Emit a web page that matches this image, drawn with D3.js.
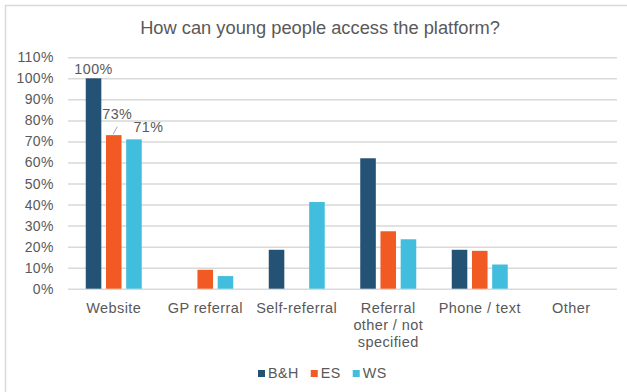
<!DOCTYPE html>
<html>
<head>
<meta charset="utf-8">
<script src="https://cdn.jsdelivr.net/npm/d3@7"></script>
<style>
  html, body { margin: 0; padding: 0; background: #fff; }
  svg { display: block; font-family: "Liberation Sans", Arial, sans-serif; }
</style>
</head>
<body>
<svg id="chart" width="627" height="392"></svg>
<script>
// Access routes and the share of each service offering them
const categories = ["Website", "GP referral", "Self-referral", "Referral other / not specified", "Phone / text", "Other"];
const seriesNames = ["B&H", "ES", "WS"];
const seriesColors = ["#245274", "#F15A22", "#41BEDD"];
const valuesBH = [1.00, 0, 0.185, 0.62, 0.185, 0];
const valuesES = [0.73, 0.09, 0, 0.273, 0.18, 0];
const valuesWS = [0.71, 0.06, 0.412, 0.235, 0.115, 0];
const yTicks = [0, 0.1, 0.2, 0.3, 0.4, 0.5, 0.6, 0.7, 0.8, 0.9, 1.0, 1.1];
// Data labels shown on the Website bars
const labelledBars = [
  { series: "B&H", cat: "Website", value: 1.00, dx: 0, dy: -4, leader: false },
  { series: "ES", cat: "Website", value: 0.73, dx: 3.5, dy: -16, leader: true },
  { series: "WS", cat: "Website", value: 0.71, dx: 14.5, dy: -7, leader: false }
];

const allValues = [valuesBH, valuesES, valuesWS];
const svg = d3.select("#chart");
const textColor = "#595959";
const smallFont = { size: 14, spacing: 0.45 };

// Outer frame of the chart area
svg.append("path")
  .attr("d", "M5.5,400 L5.5,5.5 L640,5.5")
  .attr("fill", "none")
  .attr("stroke", "#d9d9d9")
  .attr("stroke-width", 1.5);

// Title
svg.append("text")
  .attr("x", 320)
  .attr("y", 34)
  .attr("text-anchor", "middle")
  .attr("fill", textColor)
  .attr("font-size", 18.3)
  .text("How can young people access the platform?");

const plot = { left: 68, right: 617, top: 57.3, bottom: 288.7 };

const y = d3.scaleLinear().domain([0, 1.1]).range([plot.bottom, plot.top]);
const x0 = d3.scaleBand().domain(categories).range([plot.left, plot.right]);
const groupPad = (x0.bandwidth() - 56) / 2;
const x1 = d3.scaleBand().domain(seriesNames)
  .range([groupPad, x0.bandwidth() - groupPad])
  .paddingInner(0.23);

// Horizontal gridlines and percentage axis
const yAxis = d3.axisLeft(y)
  .tickValues(yTicks)
  .tickFormat(d3.format(".0%"))
  .tickSize(-(plot.right - plot.left))
  .tickPadding(14);

const yG = svg.append("g")
  .attr("transform", `translate(${plot.left},0)`)
  .call(yAxis);
yG.select(".domain").remove();
yG.selectAll(".tick line").attr("stroke", "#d9d9d9").attr("stroke-width", 1.5);
yG.selectAll(".tick text")
  .attr("fill", textColor)
  .attr("font-size", smallFont.size)
  .attr("letter-spacing", smallFont.spacing)
  .attr("font-family", "Liberation Sans, Arial, sans-serif");

// Bars
const rows = [];
categories.forEach((c, i) => {
  seriesNames.forEach((s, j) => {
    rows.push({ cat: c, series: s, value: allValues[j][i], color: seriesColors[j] });
  });
});

svg.append("g")
  .selectAll("rect")
  .data(rows.filter(d => d.value > 0))
  .join("rect")
  .attr("x", d => x0(d.cat) + x1(d.series))
  .attr("y", d => y(d.value))
  .attr("width", x1.bandwidth())
  .attr("height", d => y(0) - y(d.value))
  .attr("fill", d => d.color);

// Data labels (with a short leader line where the label was moved)
const lblG = svg.append("g");
labelledBars.forEach(d => {
  const cx = x0(d.cat) + x1(d.series) + x1.bandwidth() / 2;
  const top = y(d.value);
  lblG.append("text")
    .attr("x", cx + d.dx)
    .attr("y", top + d.dy)
    .attr("text-anchor", "middle")
    .attr("fill", textColor)
    .attr("font-size", 14.3)
    .attr("letter-spacing", smallFont.spacing)
    .text(d3.format(".0%")(d.value));
  if (d.leader) {
    lblG.append("line")
      .attr("x1", cx - 0.5).attr("y1", top - 1)
      .attr("x2", cx + 3.5).attr("y2", top - 8.5)
      .attr("stroke", "#a6a6a6")
      .attr("stroke-width", 1);
  }
});

// Category labels, wrapped to fit under each group
const catFont = { size: 14.5, spacing: 0.4 };
const catG = svg.append("g");
function wrapLines(text, maxWidth) {
  const probe = svg.append("text")
    .attr("font-size", catFont.size)
    .attr("letter-spacing", catFont.spacing)
    .attr("visibility", "hidden");
  const words = text.split(" ");
  const lines = [];
  let line = [];
  words.forEach(w => {
    const test = line.concat([w]).join(" ");
    probe.text(test);
    if (probe.node().getComputedTextLength() > maxWidth && line.length) {
      lines.push(line.join(" "));
      line = [w];
    } else {
      line.push(w);
    }
  });
  if (line.length) lines.push(line.join(" "));
  probe.remove();
  return lines;
}
categories.forEach(c => {
  const lines = wrapLines(c, 86);
  const t = catG.append("text")
    .attr("text-anchor", "middle")
    .attr("fill", textColor)
    .attr("font-size", catFont.size)
    .attr("letter-spacing", catFont.spacing);
  lines.forEach((ln, i) => {
    t.append("tspan")
      .attr("x", x0(c) + x0.bandwidth() / 2)
      .attr("y", 312.5 + i * 17.3)
      .text(ln);
  });
});

// Legend
const legendG = svg.append("g").attr("transform", "translate(258,370)");
let lx = 0;
seriesNames.forEach((s, i) => {
  const item = legendG.append("g").attr("transform", `translate(${lx},0)`);
  item.append("rect").attr("width", 7).attr("height", 7).attr("fill", seriesColors[i]);
  const t = item.append("text")
    .attr("x", 10)
    .attr("y", 8)
    .attr("fill", textColor)
    .attr("font-size", 14.3)
    .attr("letter-spacing", smallFont.spacing)
    .text(s);
  lx += 10 + t.node().getComputedTextLength() + 12;
});
</script>
</body>
</html>
